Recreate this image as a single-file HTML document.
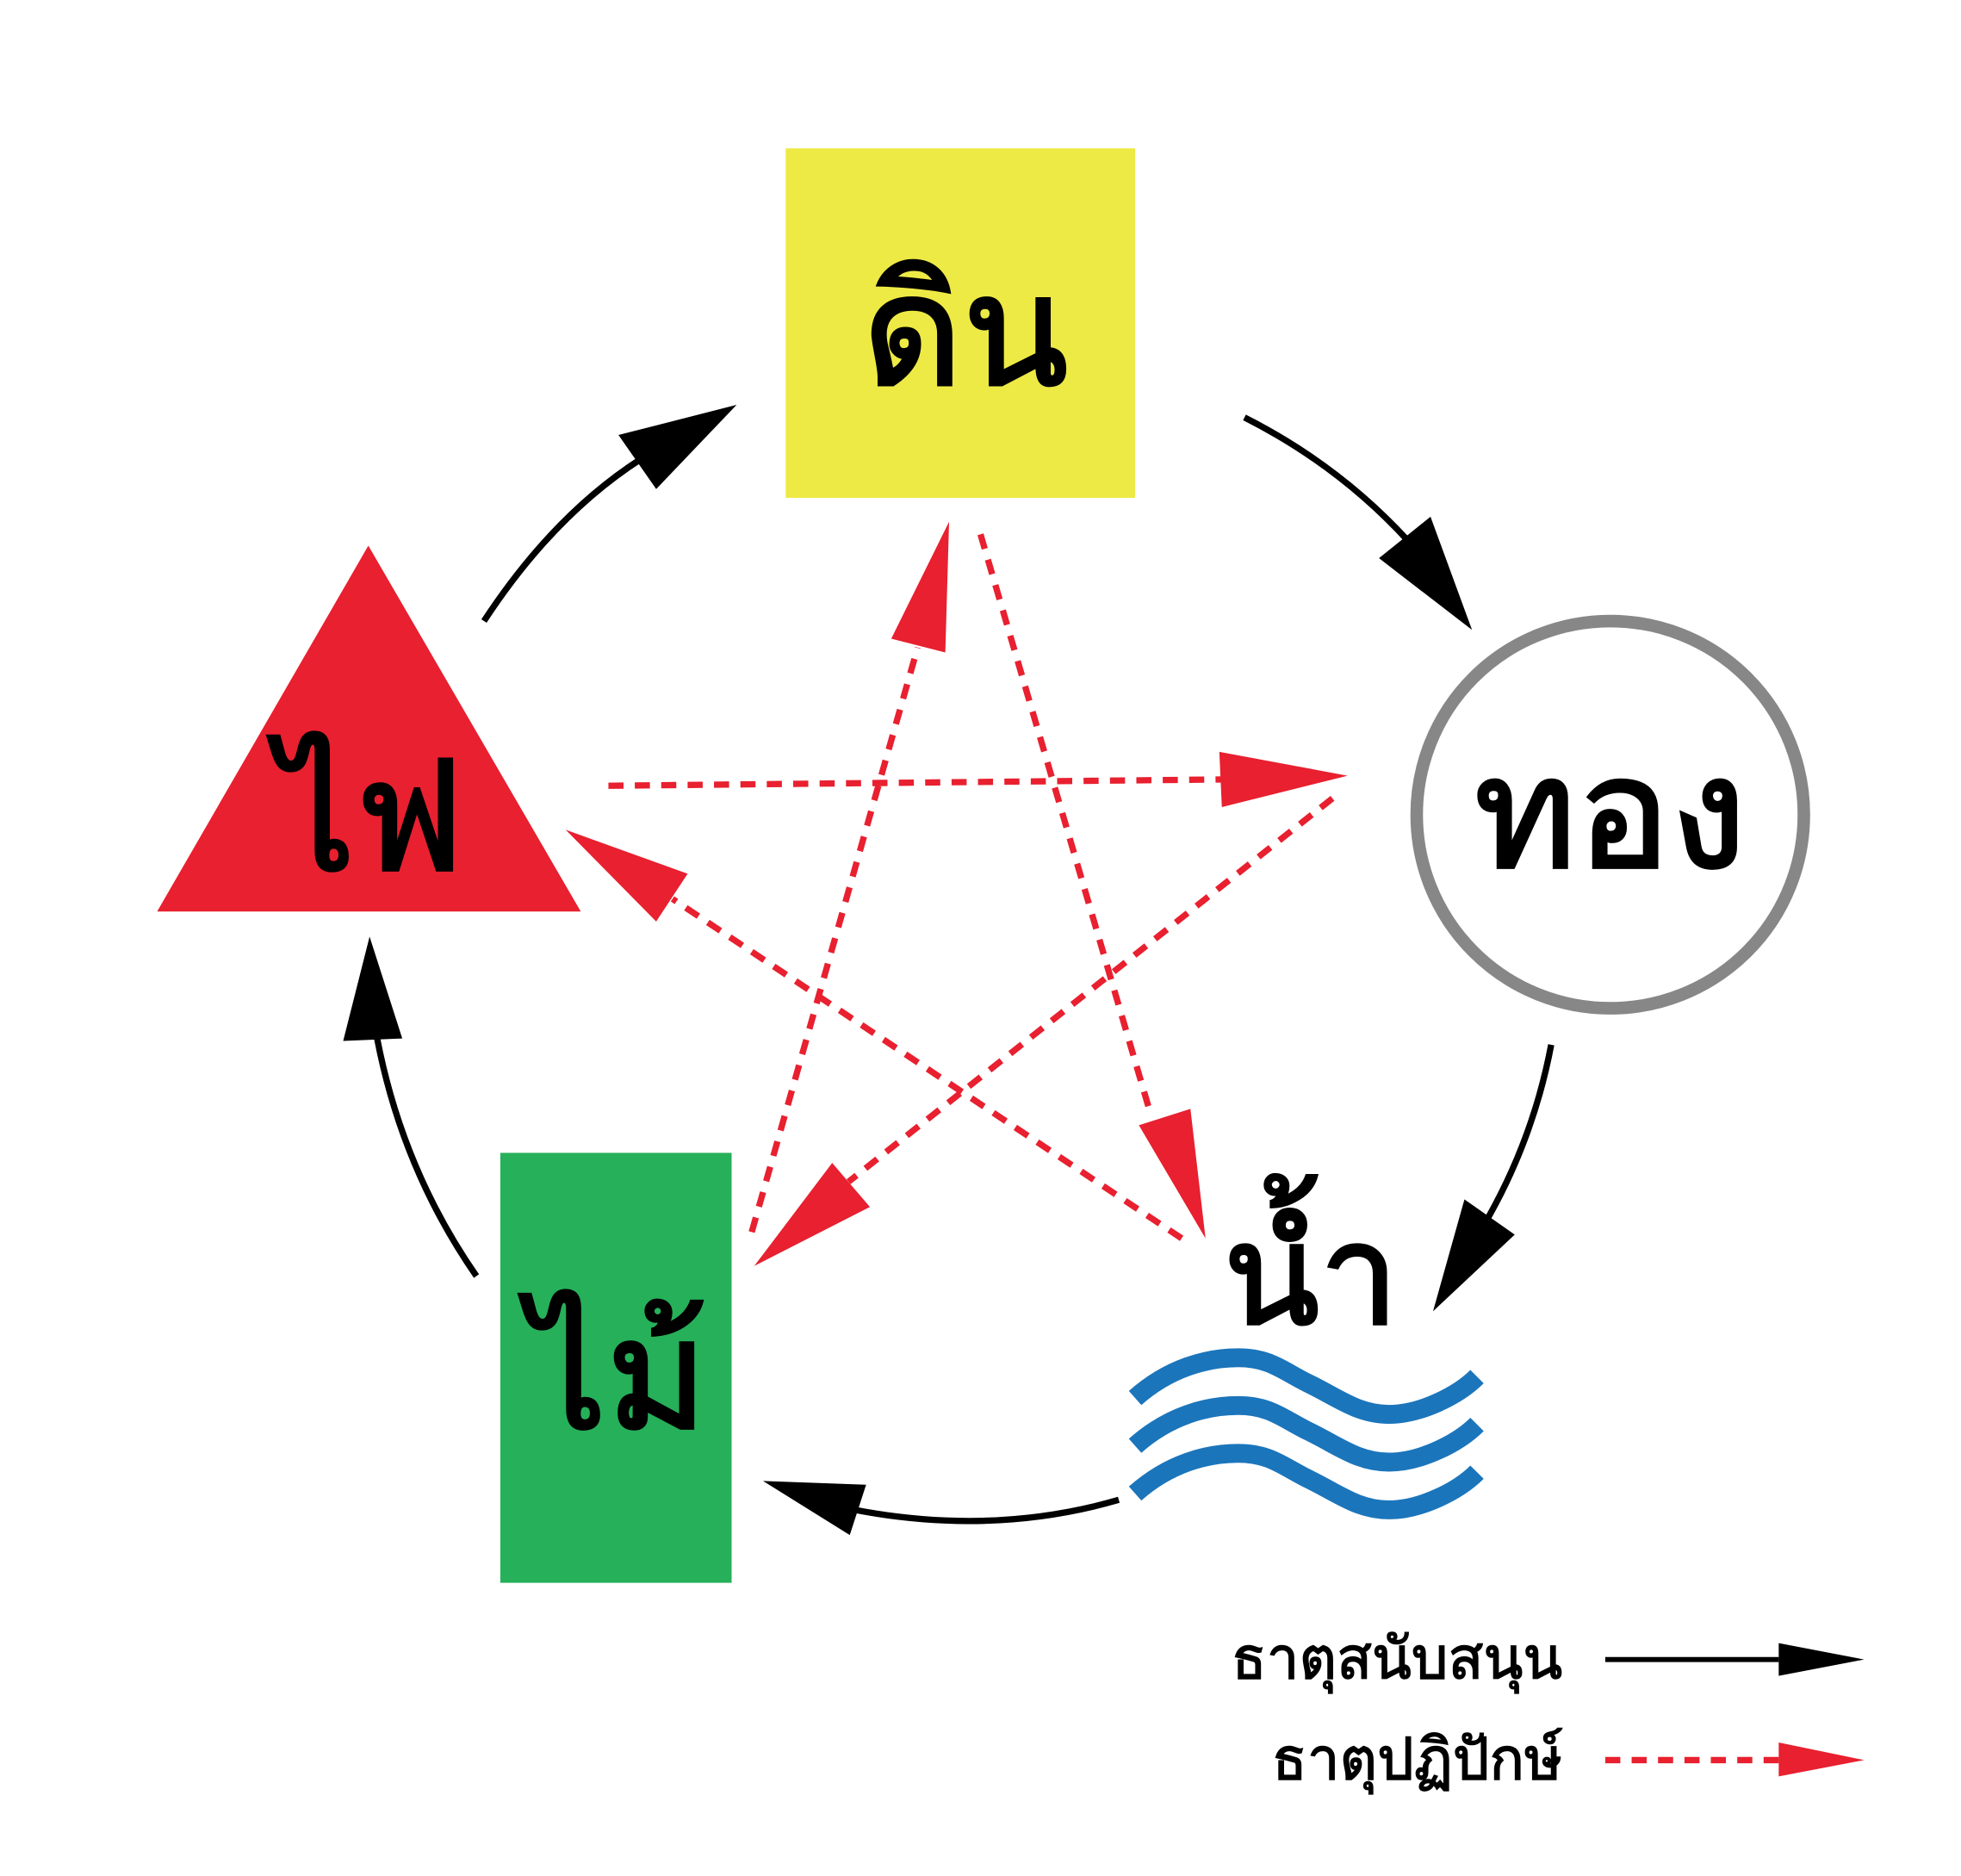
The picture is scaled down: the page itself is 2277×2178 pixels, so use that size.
<!DOCTYPE html>
<html><head><meta charset="utf-8"><style>html,body{margin:0;padding:0;background:#fff}svg{display:block}text{font-family:"Liberation Sans",sans-serif}</style></head>
<body>
<svg width="2277" height="2178" viewBox="0 0 1560 1492.2" xmlns="http://www.w3.org/2000/svg">
<rect x="0" y="0" width="1560" height="1493" fill="#fff"/>
<rect x="625" y="118" width="278" height="278" fill="#eeea45"/>
<polygon points="293,434 125,725 462,725" fill="#e8202f"/>
<circle cx="1281" cy="648" r="154" fill="#fff" stroke="#878787" stroke-width="10"/>
<rect x="398" y="917" width="184" height="342" fill="#26b05a"/>
<g fill="#000" stroke="#000" stroke-width="2.5" text-anchor="middle">
<text x="768" y="306" font-size="123">ดิน</text>
<text x="295" y="692" font-size="122">ไฟ</text>
<text x="1281" y="690" font-size="124">ทอง</text>
<text x="492" y="1136" font-size="122">ไม้</text>
<text x="1043" y="1053" font-size="112">น้ำ</text>
</g>
<g fill="none" stroke="#1b75bb" stroke-width="15">
<path d="M903,1112 C930,1088 960,1080 985,1080 C1010,1080 1020,1090 1040,1100 C1065,1112 1080,1125 1105,1125 C1130,1125 1160,1110 1175,1095"/>
<path d="M903,1150 C930,1126 960,1118 985,1118 C1010,1118 1020,1128 1040,1138 C1065,1150 1080,1163 1105,1163 C1130,1163 1160,1148 1175,1133"/>
<path d="M903,1188 C930,1164 960,1156 985,1156 C1010,1156 1020,1166 1040,1176 C1065,1188 1080,1201 1105,1201 C1130,1201 1160,1186 1175,1171"/>
</g>
<g fill="none" stroke="#000" stroke-width="5">
<path d="M385,494 Q440,410 510,365"/>
<path d="M990,332 Q1065,370 1120,430"/>
<path d="M1234,831 Q1220,905 1183,970"/>
<path d="M890,1193 Q790,1222 680,1201"/>
<path d="M379,1015 Q320,930 300,826"/>
</g>
<g fill="#000">
<polygon points="492,346 586,322 522,389"/>
<polygon points="1097,444 1138,411 1171,501"/>
<polygon points="1165,954 1205,982 1140,1043"/>
<polygon points="689,1181 607,1178 676,1221"/>
<polygon points="273,828 294,745 320,826"/>
</g>
<g fill="none" stroke="#e8202f" stroke-width="5" stroke-dasharray="12,9">
<line x1="484" y1="625" x2="972" y2="620"/>
<line x1="1060" y1="635" x2="675" y2="940"/>
<line x1="940" y1="985" x2="535" y2="715"/>
<line x1="598" y1="980" x2="730" y2="515"/>
<line x1="780" y1="425" x2="915" y2="885"/>
<line x1="1277" y1="1400" x2="1415" y2="1400"/>
</g>
<g fill="#e8202f">
<polygon points="970,598 1072,617 972,642"/>
<polygon points="692,960 600,1007 662,925"/>
<polygon points="522,733 450,660 547,695"/>
<polygon points="709,508 755,415 752,519"/>
<polygon points="906,895 947,882 959,985"/>
<polygon points="1415,1386 1483,1400 1415,1413"/>
</g>
<line x1="1277" y1="1320" x2="1415" y2="1320" stroke="#000" stroke-width="4"/>
<polygon points="1415,1307 1483,1320 1415,1333" fill="#000"/>
<g fill="#000" stroke="#000" stroke-width="1" text-anchor="end">
<text x="1243" y="1335" font-size="46">ธาตุสนับสนุน</text>
<text x="1243" y="1415" font-size="46">ธาตุปฏิปักษ์</text>
</g>
</svg>
</body></html>
